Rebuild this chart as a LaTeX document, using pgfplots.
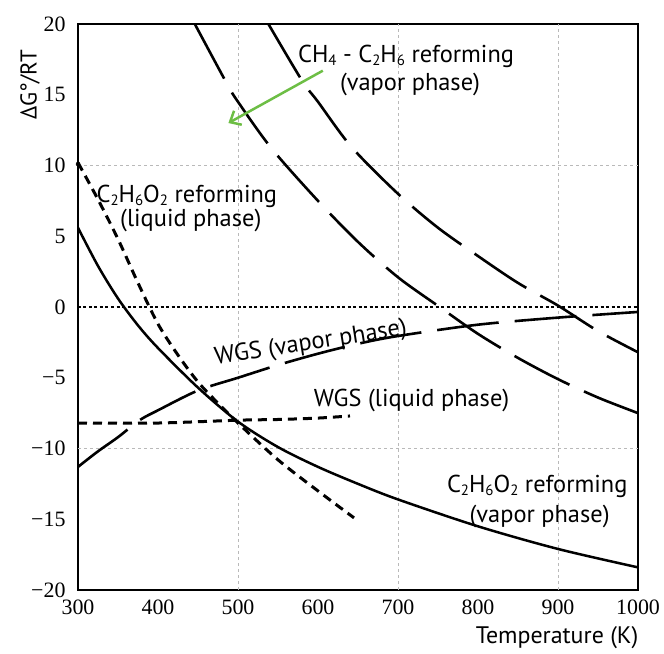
\documentclass[border=0pt]{standalone}
\usepackage{fontspec}
\setmainfont{Liberation Serif}
\newfontfamily\lab{PT Sans}
\usepackage{pgfplots}
\pgfplotsset{compat=1.18}
\usetikzlibrary{arrows.meta}
\definecolor{arrowgreen}{HTML}{6DBE45}
\tikzset{lbl/.style={font=\lab\fontsize{24.5}{24.5}\selectfont, inner sep=0pt},
  gridln/.style={gray!55, line width=0.8bp, dash pattern=on 3bp off 3bp}}
\newcommand\sub[1]{\raisebox{-0.12em}{\fontsize{15}{15}\selectfont #1}}

\begin{document}
\begin{tikzpicture}[x=1bp,y=1bp]
\begin{axis}[
  at={(0,0)}, anchor=south west,
  width=560bp, height=566bp, scale only axis,
  xmin=300, xmax=1000, ymin=-20, ymax=20,
  xtick={300,400,500,600,700,800,900,1000},
  xticklabels={300,400,500,600,700,800,900,1000},
  ytick={-20,-15,-10,-5,0,5,10,15,20},
  yticklabels={−20,−15,−10,−5,0,5,10,15,20},
  major tick length=0pt,
  tick label style={font=\fontsize{22}{22}\selectfont},
  xticklabel style={yshift=-6bp},
  yticklabel style={xshift=-9bp},
  axis line style={line width=2bp},
]
% partial grid, as in the original
\draw[gridln] (axis cs:500,-20) -- (axis cs:500,20);
\draw[gridln] (axis cs:700,-20) -- (axis cs:700,20);
\draw[gridln] (axis cs:900,-20) -- (axis cs:900,20);
\draw[gridln] (axis cs:300,10) -- (axis cs:1000,10);
\draw[gridln] (axis cs:300,-10) -- (axis cs:1000,-10);

% y = 0 reference
\addplot[black, line width=1.5bp, dash pattern=on 3bp off 2.5bp] coordinates {(300,0)(1000,0)};

% C2H6O2 reforming, vapor phase
\addplot[black, line width=2.5bp, smooth] coordinates {
  (300,5.6)(325,2.9)(350,0.6)(375,-1.3)(400,-2.9)(450,-5.7)(500,-8.1)
  (550,-9.9)(600,-11.3)(650,-12.5)(700,-13.6)(800,-15.5)(900,-17.1)(1000,-18.4)};

% C2H6O2 reforming, liquid phase
\addplot[black, line width=3bp, dash pattern=on 9bp off 6bp, smooth] coordinates {
  (300,10.2)(325,7.6)(350,4.8)(375,1.7)(400,-1.2)(425,-3.4)(450,-5.3)
  (475,-6.8)(500,-8.2)(550,-10.8)(600,-13.0)(645,-14.9)};
\addplot[only marks, mark=*, mark size=2bp, black] coordinates {(300,10.1)};

% WGS, vapor phase
\addplot[black, line width=2.6bp, dash pattern=on 62bp off 16bp, smooth] coordinates {
  (300,-11.3)(325,-10.2)(350,-9.2)(377,-8.0)(400,-7.3)(450,-5.9)(500,-5.0)
  (550,-4.1)(600,-3.3)(650,-2.6)(700,-2.05)(800,-1.25)(900,-0.75)(1000,-0.35)};

% WGS, liquid phase
\addplot[black, line width=3bp, dash pattern=on 9bp off 6bp, smooth] coordinates {
  (300,-8.2)(400,-8.2)(500,-8.0)(550,-7.95)(600,-7.85)(640,-7.7)};

% CH4 - C2H6 reforming, vapor phase
\addplot[black, line width=2.6bp, dash pattern=on 62bp off 16bp, smooth] coordinates {
  (446,20)(486,15.8)(500,14.5)(542,11.2)(600,7.5)(650,4.6)(700,2.1)
  (752,0)(800,-1.9)(850,-3.6)(900,-5.1)(950,-6.4)(1000,-7.5)};
\addplot[black, line width=2.6bp, dash pattern=on 62bp off 16bp, smooth] coordinates {
  (538,20)(580,16.0)(600,14.5)(642,11.3)(700,8.0)(750,5.6)(800,3.6)
  (850,1.7)(900,0.1)(950,-1.7)(1000,-3.2)};

\draw[arrowgreen, line width=2.5bp, -{Straight Barb[length=9bp,width=16bp,line width=2.5bp]}]
  (axis cs:606,16.7) -- (axis cs:488,13.0);

\node[lbl] at (axis cs:710,17.7) {CH\sub{4} - C\sub{2}H\sub{6} reforming};
\node[lbl] at (axis cs:715,15.7) {(vapor phase)};
\node[lbl] at (axis cs:436,7.8) {C\sub{2}H\sub{6}O\sub{2} reforming};
\node[lbl] at (axis cs:441,6.1) {(liquid phase)};
\node[lbl, rotate=9] at (axis cs:591,-2.6) {WGS (vapor phase)};
\node[lbl] at (axis cs:717,-6.6) {WGS (liquid phase)};
\node[lbl] at (axis cs:874,-12.7) {C\sub{2}H\sub{6}O\sub{2} reforming};
\node[lbl] at (axis cs:877,-14.8) {(vapor phase)};
\end{axis}
\node[font=\lab\fontsize{23}{23}\selectfont, rotate=90] at (-48,505) {ΔG°/RT};
\node[font=\lab\fontsize{24}{24}\selectfont] at (479,-48) {Temperature (K)};
\pgfresetboundingbox
\useasboundingbox (-78,-64) rectangle (586,590);
\end{tikzpicture}
\end{document}
